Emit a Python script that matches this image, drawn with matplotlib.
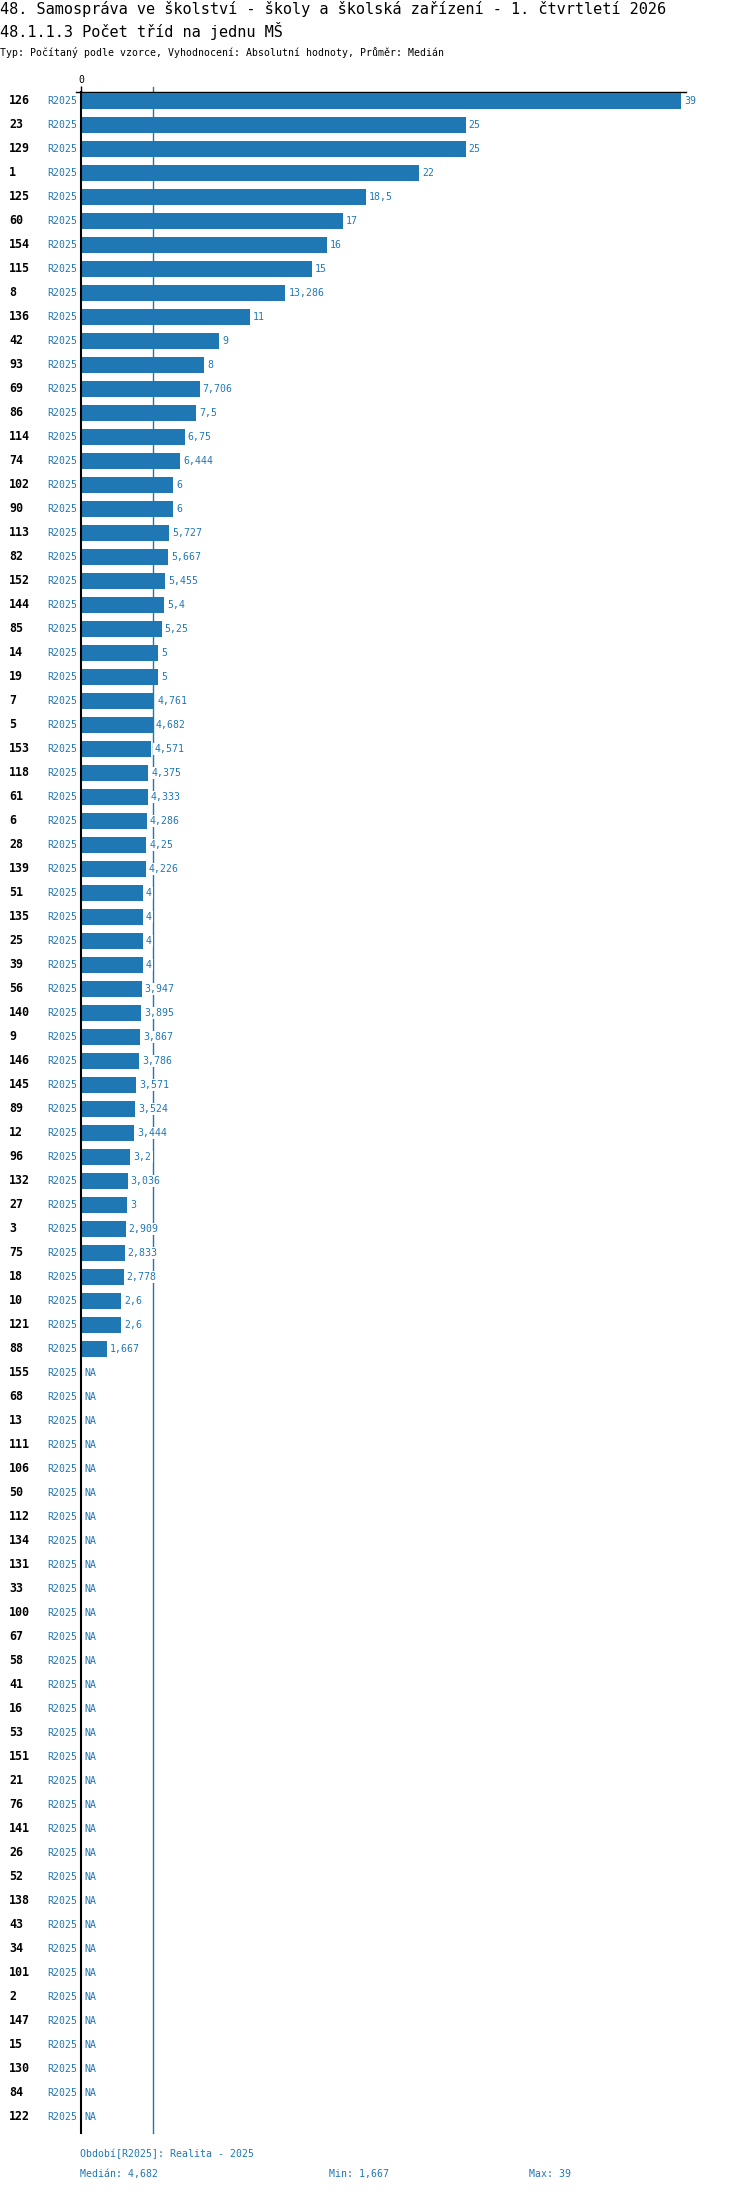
import matplotlib
matplotlib.use("Agg")
import matplotlib.pyplot as plt
import matplotlib.transforms as mtransforms

# ---- data ----
categories = ["126", "23", "129", "1", "125", "60", "154", "115", "8", "136",
              "42", "93", "69", "86", "114", "74", "102", "90", "113", "82",
              "152", "144", "85", "14", "19", "7", "5", "153", "118", "61",
              "6", "28", "139", "51", "135", "25", "39", "56", "140", "9",
              "146", "145", "89", "12", "96", "132", "27", "3", "75", "18",
              "10", "121", "88",
              "155", "68", "13", "111", "106", "50", "112", "134", "131", "33",
              "100", "67", "58", "41", "16", "53", "151", "21", "76", "141",
              "26", "52", "138", "43", "34", "101", "2", "147", "15", "130",
              "84", "122"]
values = [39, 25, 25, 22, 18.5, 17, 16, 15, 13.286, 11,
          9, 8, 7.706, 7.5, 6.75, 6.444, 6, 6, 5.727, 5.667,
          5.455, 5.4, 5.25, 5, 5, 4.761, 4.682, 4.571, 4.375, 4.333,
          4.286, 4.25, 4.226, 4, 4, 4, 4, 3.947, 3.895, 3.867,
          3.786, 3.571, 3.524, 3.444, 3.2, 3.036, 3, 2.909, 2.833, 2.778,
          2.6, 2.6, 1.667] + [None] * 32
period = "R2025"
median_value = 4.682
min_value = 1.667
max_value = 39

title1 = "48. Samospráva ve školství - školy a školská zařízení - 1. čtvrtletí 2026"
title2 = "48.1.1.3 Počet tříd na jednu MŠ"
subtitle = "Typ: Počítaný podle vzorce, Vyhodnocení: Absolutní hodnoty, Průměr: Medián"
footer1 = "Období[R2025]: Realita - 2025"

def fmt(v):
    return f"{v:g}".replace(".", ",")

# ---- figure ----
W, H = 750, 2192
BLUE = "#1f77b4"
MONO = "DejaVu Sans Mono"
fig = plt.figure(figsize=(W / 100, H / 100), dpi=100)
fig.patch.set_facecolor("white")

ax_top, ax_bot = 92, 2133
ax_left, ax_right = 81, 686
ax = fig.add_axes([ax_left / W, 1 - ax_bot / H, (ax_right - ax_left) / W, (ax_bot - ax_top) / H])

n = len(categories)
ypos = list(range(n))
px_per_unit = 600 / 39.0
ax.set_xlim(0, (ax_right - ax_left) / px_per_unit)
ax.set_ylim(n - 1 + 16 / 24, -9 / 24)

bar_vals = [v if v is not None else 0 for v in values]
ax.barh(ypos, bar_vals, height=0.65, color=BLUE, zorder=3)

# median line
ax.plot([median_value, median_value], [n - 1 + 16 / 24, -9 / 24 - 5 / 24],
        color=BLUE, lw=1.0, zorder=1, clip_on=False)

# value labels
for y, v in zip(ypos, values):
    if v is None:
        ax.annotate("NA", (0, y), xytext=(3, 0), textcoords="offset pixels",
                    ha="left", va="center", fontsize=7.1, family=MONO, color=BLUE,
                    zorder=4)
    else:
        ax.annotate(fmt(v), (v, y), xytext=(3, 0), textcoords="offset pixels",
                    ha="left", va="center", fontsize=7.1, family=MONO, color=BLUE,
                    zorder=4,
                    bbox=dict(boxstyle="square,pad=0.15", fc="white", ec="none"))

# row labels
trans = mtransforms.blended_transform_factory(fig.transFigure, ax.transData)
for y, c in zip(ypos, categories):
    ax.text(9 / W, y, c, transform=trans, ha="left", va="center",
            fontsize=8.4, family=MONO, fontweight="bold", color="black")
    ax.text(77 / W, y, period, transform=trans, ha="right", va="center",
            fontsize=7.1, family=MONO, color=BLUE)

# spines & ticks
for s in ["right", "bottom"]:
    ax.spines[s].set_visible(False)
ax.spines["left"].set_linewidth(1.5)
ax.spines["left"].set_color("black")
ax.spines["left"].set_zorder(5)
ax.spines["top"].set_linewidth(1.0)
ax.spines["top"].set_color("black")
ax.plot([-5 / px_per_unit, 0], [-9 / 24, -9 / 24], color="black", lw=1.0, clip_on=False)
ax.set_yticks([])
ax.xaxis.tick_top()
ax.set_xticks([0])
ax.set_xticklabels(["0"])
ax.tick_params(axis="x", length=4, width=1, pad=1, labelsize=7.1, colors="black")
for lbl in ax.get_xticklabels():
    lbl.set_family(MONO)

# header texts
def ftext(x, y, s, **kw):
    fig.text(x / W, 1 - y / H, s, **kw)

ftext(0, 9, title1, fontsize=11, family=MONO, color="black", va="center", ha="left")
ftext(0, 31, title2, fontsize=11, family=MONO, color="black", va="center", ha="left")
ftext(0, 52, subtitle, fontsize=7.1, family=MONO, color="black", va="center", ha="left")

# footer texts
ftext(80, 2154, footer1, fontsize=7.1, family=MONO, color=BLUE, va="center", ha="left")
ftext(80, 2174, "Medián: " + fmt(median_value), fontsize=7.1, family=MONO, color=BLUE, va="center", ha="left")
ftext(329, 2174, "Min: " + fmt(min_value), fontsize=7.1, family=MONO, color=BLUE, va="center", ha="left")
ftext(529, 2174, "Max: " + fmt(max_value), fontsize=7.1, family=MONO, color=BLUE, va="center", ha="left")

fig.savefig("out.png", dpi=100, facecolor="white")
